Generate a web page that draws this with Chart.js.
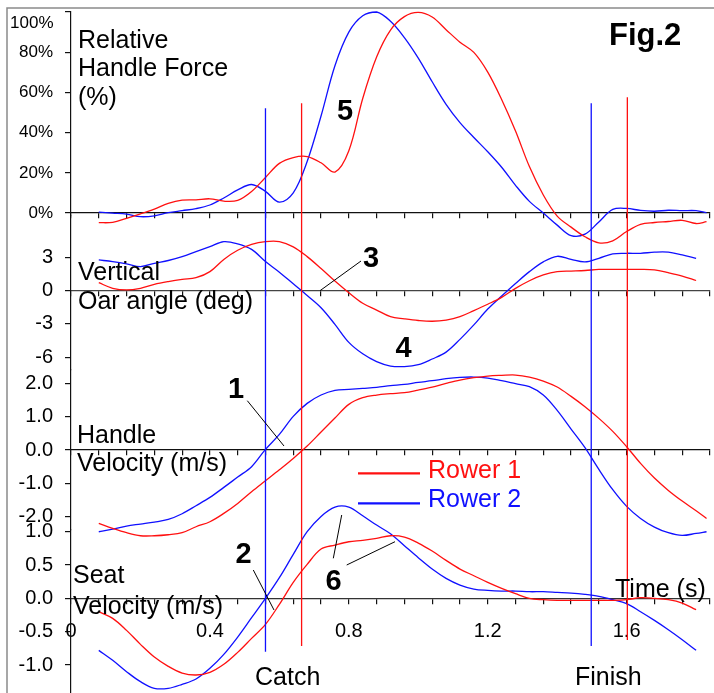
<!DOCTYPE html>
<html><head><meta charset="utf-8">
<script src="https://cdn.jsdelivr.net/npm/chart.js@4"></script>
<style>html,body{margin:0;padding:0;background:#fff;}canvas{display:block;}</style>
</head><body>
<canvas id="c" width="714" height="693"></canvas>
<script>
// ---------- DATA ----------
const time = [0.08,0.12,0.16,0.20,0.24,0.28,0.32,0.36,0.40,0.44,0.48,0.52,0.56,0.60,0.64,0.68,0.72,0.76,0.80,0.84,0.88,0.92,0.96,1.00,1.04,1.08,1.12,1.16,1.20,1.24,1.28,1.32,1.36,1.40,1.44,1.48,1.52,1.56,1.60,1.64,1.68,1.72,1.76,1.80,1.83];

const forceRower1 = [-4.8,-4.6,-2.6,-0.4,2.0,4.8,6.4,6.6,7.1,5.9,6.3,10.7,17.7,24.7,27.6,28.1,25,20.4,31,57,77.6,91,97.7,99.8,97.5,91.2,85,79.9,70.1,56.5,40.8,23.1,9,-1.5,-7,-11.8,-14.8,-13.8,-9.2,-5.6,-4.7,-4.2,-3.6,-5.2,-4.3];
const forceRower2 = [0.5,0,-0.5,-1.8,-1.4,0.2,1.2,2.2,4.0,7.5,11.5,14.2,10.8,5.4,10,25.6,48.3,73.3,90,98.1,100,95.4,87.3,77.1,65.3,54.1,45,37.6,30.5,22.8,13.8,5.8,0,-6,-11.2,-10.5,-4.4,1.8,2.3,1.3,0.9,1.4,1.2,1.2,0.2];

const oarRower1 = [0.7,0.2,0.05,0.2,0.55,0.8,1.0,1.15,1.7,2.8,3.62,4.15,4.4,4.4,3.93,3.05,1.98,0.85,-0.2,-1.15,-1.76,-2.36,-2.55,-2.7,-2.77,-2.66,-2.35,-1.81,-1.24,-0.62,0.19,0.88,1.4,1.7,1.75,1.8,1.9,1.9,1.9,1.9,1.85,1.6,1.3,0.9,null];
const oarRower2 = [2.75,2.6,2.4,2.15,2.45,2.7,3.05,3.5,3.95,4.4,4.2,3.7,2.6,1.65,0.6,-0.45,-1.55,-3.05,-4.67,-5.7,-6.4,-6.8,-6.85,-6.68,-6.17,-5.55,-4.4,-3.1,-1.67,-0.5,0.63,1.7,2.58,3.08,2.8,2.57,2.9,3.3,3.35,3.35,3.45,3.45,3.2,2.9,null];

const handleRower1 = [-2.2,-2.35,-2.48,-2.57,-2.57,-2.54,-2.48,-2.3,-2.15,-1.9,-1.6,-1.25,-0.92,-0.59,-0.25,0.12,0.54,0.96,1.37,1.57,1.65,1.69,1.72,1.8,1.89,2.0,2.1,2.17,2.22,2.24,2.25,2.19,2.07,1.89,1.61,1.3,0.95,0.56,0.1,-0.4,-0.84,-1.21,-1.53,-1.82,-2.05];
const handleRower2 = [-2.45,-2.37,-2.28,-2.22,-2.16,-2.08,-1.91,-1.67,-1.42,-1.12,-0.81,-0.5,0.02,0.47,1.01,1.4,1.65,1.79,1.82,1.85,1.88,1.93,1.97,2.03,2.08,2.14,2.18,2.19,2.16,2.08,1.99,1.9,1.65,1.19,0.63,0.07,-0.58,-1.19,-1.69,-2.05,-2.31,-2.48,-2.56,-2.5,-2.45];

const seatRower1 = [-0.2,-0.3,-0.48,-0.69,-0.88,-1.02,-1.12,-1.15,-1.11,-0.99,-0.81,-0.6,-0.39,-0.09,0.24,0.51,0.74,0.8,0.85,0.87,0.9,0.94,0.92,0.83,0.71,0.57,0.44,0.34,0.24,0.15,0.07,0.0,-0.02,-0.03,-0.03,-0.03,-0.03,-0.03,-0.02,0.01,0.0,-0.02,-0.07,-0.17,null];
const seatRower2 = [-0.78,-0.93,-1.1,-1.25,-1.35,-1.35,-1.29,-1.21,-1.05,-0.84,-0.58,-0.29,0.0,0.31,0.66,1.0,1.23,1.37,1.37,1.24,1.1,0.97,0.79,0.61,0.44,0.3,0.2,0.14,0.12,0.11,0.11,0.1,0.1,0.09,0.08,0.06,0.03,-0.02,-0.08,-0.2,-0.33,-0.47,-0.62,-0.78,null];

const forceTicks = [0,20,40,60,80,100];
const oarTicks = [-6,-3,0,3];
const handleTicks = [-2,-1,0,1,2];
const seatTicks = [-1,-0.5,0,0.5,1];
const timeTickLabels = [0,0.4,0.8,1.2,1.6];
const timeMinorStep = 0.08;

const catchTimes = [0.664, 0.560];   // Rower 1, Rower 2
const finishTimes = [1.602, 1.498];  // Rower 1, Rower 2
const seriesNames = ['Rower 1','Rower 2'];

// ---------- STYLE / LAYOUT ----------
const RED = '#ff1010', BLUE = '#1010ff';
const FONT = "'Liberation Sans', Arial, Helvetica, sans-serif";
const X_MAX = 1.84;
const AXIS_LEFT = 71;
const panels = {
  yForce:  {min:-1.5,  max:100,   ppu:2.011},
  yOar:    {min:-7.1,  max:6.7,   ppu:11.11},
  yHandle: {min:-2.4,  max:2.42,  ppu:33.35},
  ySeat:   {min:-1.42, max:1.025, ppu:66.65}
};

function yAxis(id, ticksArr, fmt, size){
  const p = panels[id];
  return {
    type:'linear', position:'left', stack:'panels',
    stackWeight:(p.max-p.min)*p.ppu, min:p.min, max:p.max,
    border:{display:true, color:'#111', width:1.2},
    grid:{drawOnChartArea:false, drawTicks:true, tickLength:6, color:'#111', lineWidth:1.2},
    ticks:{autoSkip:false, color:'#000', padding:12, font:{family:FONT, size:size}, callback:fmt},
    afterBuildTicks:s=>{ s.ticks = ticksArr.map(v=>({value:v})); },
    afterFit:s=>{ s.width = AXIS_LEFT; s.paddingTop = 0; s.paddingBottom = 0; }
  };
}
function xAxis(onAxis, showLabels, borderColor){
  return {
    type:'linear', position:{[onAxis]:0}, min:0, max:X_MAX,
    border:{display:true, color:borderColor, width:1.3},
    grid:{drawOnChartArea:false, drawTicks:true, tickLength:5, color:'#111', lineWidth:1.2},
    ticks:{autoSkip:false, maxRotation:0, minRotation:0, padding:16, color:'#000',
      font:{family:FONT, size:20},
      callback:(v)=>{
        if(!showLabels) return '';
        const hit = timeTickLabels.find(t=>Math.abs(t-v)<1e-6);
        return hit===undefined ? '' : (hit===0 ? '0' : hit.toFixed(1));
      }},
    afterBuildTicks:s=>{
      const t=[]; for(let i=0;i*timeMinorStep<=X_MAX+1e-9;i++) t.push({value:+(i*timeMinorStep).toFixed(4)});
      s.ticks=t;
    },
    afterFit:s=>{ s.paddingLeft=0; s.paddingRight=0; }
  };
}

function ds(label, arr, color, axis){
  return {label, data:time.map((t,i)=>({x:t, y:arr[i]})), borderColor:color, borderWidth:1.3,
    pointRadius:0, tension:0.35, fill:false, clip:false, yAxisID:axis, xAxisID:'x', spanGaps:false};
}

// ---------- ANNOTATION LAYER ----------
const texts = [
  {s:'Relative', x:78, y:47.7, size:25},
  {s:'Handle Force', x:78, y:76.2, size:25},
  {s:'(%)', x:78, y:105, size:25},
  {s:'Fig.2', x:609, y:45, size:31, bold:true},
  {s:'Vertical', x:78, y:280, size:25},
  {s:'Oar angle (deg)', x:78, y:309, size:25},
  {s:'Handle', x:77, y:442.7, size:25},
  {s:'Velocity (m/s)', x:77, y:471, size:25},
  {s:'Seat', x:73, y:583.3, size:25},
  {s:'Velocity (m/s)', x:73, y:614, size:25},
  {s:'Time (s)', x:615, y:596.7, size:25},
  {s:'Catch', x:255, y:685, size:25},
  {s:'Finish', x:575, y:685, size:25},
  {s:seriesNames[0], x:428, y:478.3, size:25, color:RED},
  {s:seriesNames[1], x:428, y:506.7, size:25, color:BLUE}
];
const numbers = [
  {s:'1', x:236, y:398.3}, {s:'2', x:243.5, y:563.3}, {s:'3', x:371, y:266.7},
  {s:'4', x:403.5, y:356.7}, {s:'5', x:345, y:120}, {s:'6', x:333.5, y:590}
];
const leaders = [
  [247.3,400.7,284,446], [253.3,570,274,610], [320,290.7,361,261],
  [333.3,558.3,341.7,515], [346.7,565,395,541.7]
];
const legendLines = [{y:473.3, color:RED}, {y:503.3, color:BLUE}];
// vertical event lines: [time, top value on force axis, bottom value on seat axis]
const eventLines = [
  {t:catchTimes[1], top:52.1, bottom:-0.80, color:BLUE},
  {t:catchTimes[0], top:54.6, bottom:-0.716, color:RED},
  {t:finishTimes[1], top:54.6, bottom:-0.716, color:BLUE},
  {t:finishTimes[0], top:57.6, bottom:-0.626, color:RED}
];

const overlay = {
  id:'overlay',
  beforeDraw(chart){
    const c = chart.ctx;
    c.save(); c.fillStyle='#fff'; c.fillRect(0,0,chart.width,chart.height);
    c.strokeStyle='#8a8a8a'; c.lineWidth=1.5;
    c.beginPath(); c.moveTo(7,693); c.lineTo(7,8); c.lineTo(714,8); c.stroke();
    c.restore();
  },
  afterDatasetsDraw(chart){
    const c = chart.ctx, sx = chart.scales.x, sf = chart.scales.yForce, ss = chart.scales.ySeat;
    c.save(); c.lineWidth=1.3;
    eventLines.forEach(e=>{
      const px = sx.getPixelForValue(e.t);
      c.strokeStyle=e.color; c.beginPath();
      c.moveTo(px, sf.getPixelForValue(e.top)); c.lineTo(px, ss.getPixelForValue(e.bottom)); c.stroke();
    });
    c.restore();
  },
  afterDraw(chart){
    const c = chart.ctx;
    c.save();
    c.textBaseline='alphabetic'; c.textAlign='left';
    texts.forEach(t=>{
      c.font=(t.bold?'bold ':'')+t.size+'px '+FONT; c.fillStyle=t.color||'#000';
      c.fillText(t.s, t.x, t.y);
    });
    c.textAlign='center'; c.font='bold 29px '+FONT; c.fillStyle='#000';
    numbers.forEach(n=>c.fillText(n.s, n.x, n.y));
    c.strokeStyle='#000'; c.lineWidth=1;
    leaders.forEach(l=>{ c.beginPath(); c.moveTo(l[0],l[1]); c.lineTo(l[2],l[3]); c.stroke(); });
    c.lineWidth=2.2;
    legendLines.forEach(l=>{ c.strokeStyle=l.color; c.beginPath(); c.moveTo(358,l.y); c.lineTo(420,l.y); c.stroke(); });
    // top label of force axis drawn slightly below its tick (as in the figure)
    const sf = chart.scales.yForce;
    c.font='17px '+FONT; c.fillStyle='#000'; c.textAlign='right'; c.textBaseline='middle';
    c.fillText(forceTicks[forceTicks.length-1]+'%', 53.5, sf.getPixelForValue(100)+11);
    c.restore();
  }
};

new Chart(document.getElementById('c'), {
  type:'line',
  data:{datasets:[
    ds('Rower 1 force', forceRower1, RED, 'yForce'),
    ds('Rower 2 force', forceRower2, BLUE, 'yForce'),
    ds('Rower 1 oar angle', oarRower1, RED, 'yOar'),
    ds('Rower 2 oar angle', oarRower2, BLUE, 'yOar'),
    ds('Rower 1 handle velocity', handleRower1, RED, 'yHandle'),
    ds('Rower 2 handle velocity', handleRower2, BLUE, 'yHandle'),
    ds('Rower 1 seat velocity', seatRower1, RED, 'ySeat'),
    ds('Rower 2 seat velocity', seatRower2, BLUE, 'ySeat')
  ]},
  options:{
    responsive:false, devicePixelRatio:1, animation:false,
    layout:{padding:{left:0, right:4, top:12, bottom:0}},
    plugins:{legend:{display:false}, tooltip:{enabled:false}},
    scales:{
      x: xAxis('ySeat', true, '#333'),
      x2: xAxis('yHandle', false, '#111'),
      x3: xAxis('yOar', false, '#444'),
      x4: xAxis('yForce', false, '#111'),
      ySeat: yAxis('ySeat', seatTicks, v=>v.toFixed(1), 20),
      yHandle: yAxis('yHandle', handleTicks, v=>v.toFixed(1), 20),
      yOar: yAxis('yOar', oarTicks, v=>String(v), 20),
      yForce: yAxis('yForce', forceTicks, v=>(v===100?'':v+'%'), 17)
    }
  },
  plugins:[overlay]
});
</script>
</body></html>
